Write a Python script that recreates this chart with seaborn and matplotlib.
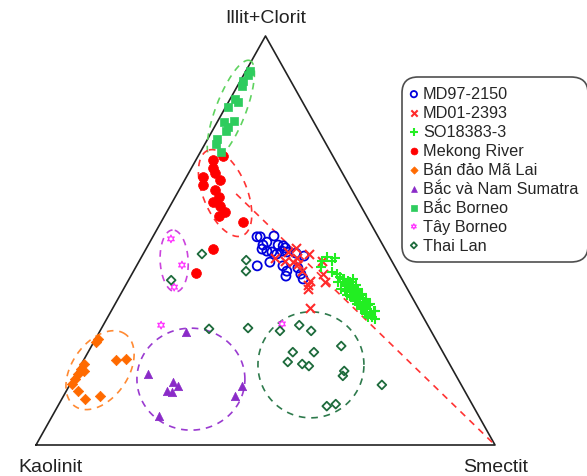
import numpy as np
import pandas as pd
import seaborn as sns
import matplotlib.pyplot as plt

# Datos ternarios (%): illit+clorit (I) y smectit (S); kaolinit = 100 - I - S
md97_I = [50.9, 50.9, 51.1, 49.6, 48.9, 47.9, 47.4, 47.2, 48.9, 48.7, 48.2, 47.4, 46.7, 47.2, 46.9, 46.2,
          44.7, 43.8, 42.5, 43.3, 41.8, 41.3, 40.6, 43.8]
md97_S = [22.7, 23.4, 26.3, 25.5, 25.0, 25.3, 26.6, 27.8, 28.3, 29.5, 30.2, 29.9, 29.1, 31.1, 33.2, 35.3,
          28.6, 31.9, 33.4, 35.4, 36.8, 33.8, 37.9, 26.3]

md01_I = [45.7, 47.2, 46.7, 45.7, 44.7, 44.3, 42.5, 40.1, 39.1, 38.1, 45.0, 41.8, 39.9, 33.5, 45.0, 48.2]
md01_S = [29.2, 31.3, 36.1, 34.0, 33.6, 34.9, 36.7, 39.7, 39.7, 40.2, 39.8, 41.6, 43.0, 42.9, 31.7, 32.5]

so_I = [45.0, 45.0, 46.0, 45.7, 43.5, 42.3, 41.8, 40.6, 40.1, 38.9, 38.1, 37.4, 36.4, 35.7, 35.0, 34.0,
        33.3, 32.0, 31.3, 36.4, 35.2, 35.7, 39.4, 38.9, 37.7, 36.7, 35.0, 34.2, 33.3, 32.8, 32.0, 41.1,
        40.6, 39.9, 39.1, 38.1, 37.7, 38.1, 36.9, 36.2, 36.7, 35.7, 34.5, 33.5, 34.5, 32.8, 31.3, 30.8,
        32.5, 37.2, 35.7, 38.6, 39.9, 40.6]
so_S = [39.8, 42.0, 40.4, 42.3, 40.3, 43.3, 44.7, 46.6, 47.9, 48.3, 49.4, 50.4, 51.7, 52.3, 53.1, 54.2,
        55.5, 56.8, 57.6, 50.2, 51.9, 53.4, 47.6, 49.4, 50.7, 52.2, 54.2, 55.2, 54.2, 57.5, 55.9, 45.7,
        48.8, 48.5, 50.2, 47.4, 48.5, 51.1, 52.6, 50.7, 49.4, 54.1, 52.7, 54.3, 55.5, 57.2, 56.7, 58.5,
        55.4, 50.7, 52.7, 48.9, 45.8, 46.8]

mekong_I = [69.7, 70.7, 67.7, 66.5, 65.5, 64.8, 63.6, 62.3, 60.6, 59.4, 58.4, 56.9, 55.9, 54.5, 47.9, 42.1]
mekong_S = [3.7, 5.4, 4.7, 5.8, 3.6, 7.7, 4.6, 7.8, 9.6, 8.9, 10.9, 12.7, 11.9, 17.8, 14.6, 13.8]

malai_I = [25.9, 25.2, 19.8, 18.6, 18.1, 17.4, 16.1, 14.9, 13.2, 11.2, 12.0, 20.8, 21.0]
malai_S = [0.5, 0.5, 0.5, 0.5, 1.5, 0.5, 0.5, 0.5, 2.5, 5.0, 8.0, 7.0, 9.1]

sumatra_I = [27.6, 17.4, 15.4, 14.4, 13.2, 13.0, 14.4, 12.0, 7.1]
sumatra_S = [18.9, 15.7, 22.2, 23.7, 21.9, 23.1, 37.7, 37.4, 23.2]

bacborneo_I = [91.4, 90.5, 89.0, 87.8, 84.6, 83.9, 82.6, 79.0, 79.2, 77.8, 76.8, 74.8, 73.6, 71.6]
bacborneo_S = [1.0, 1.0, 0.5, 1.0, 1.0, 2.0, 0.5, 1.5, 3.5, 3.0, 3.0, 2.0, 2.5, 4.5]

tayborneo_I = [50.4, 44.0, 38.6, 29.3, 29.6]
tayborneo_S = [4.2, 9.8, 10.8, 12.6, 38.8]

thailan_I = [46.7, 45.2, 42.5, 40.3, 28.4, 28.6, 27.9, 29.3, 27.9, 24.2, 22.7, 22.7, 20.3, 19.8, 19.3,
             18.1, 16.9, 14.7, 9.5, 10.0]
thailan_S = [12.8, 23.2, 24.5, 9.3, 23.5, 31.9, 39.2, 42.7, 46.0, 54.4, 44.6, 49.2, 44.7, 48.1, 49.8,
             58.1, 58.4, 68.0, 58.6, 60.3]

nhom = ["MD97-2150", "MD01-2393", "SO18383-3", "Mekong River", "Bán đảo Mã Lai",
        "Bắc và Nam Sumatra", "Bắc Borneo", "Tây Borneo", "Thai Lan"]
datos = [(md97_I, md97_S), (md01_I, md01_S), (so_I, so_S), (mekong_I, mekong_S), (malai_I, malai_S),
         (sumatra_I, sumatra_S), (bacborneo_I, bacborneo_S), (tayborneo_I, tayborneo_S),
         (thailan_I, thailan_S)]

# estilo de cada grupo: color, marcador, tamaño, hueco
estilos = {
    "MD97-2150": ("#0000dd", "o", 42, True),
    "MD01-2393": ("#ff2a2a", "x", 42, False),
    "SO18383-3": ("#22ee22", "+", 58, False),
    "Mekong River": ("#ff0000", "o", 50, False),
    "Bán đảo Mã Lai": ("#ff6a00", "D", 28, False),
    "Bắc và Nam Sumatra": ("#8a2bc8", "^", 36, False),
    "Bắc Borneo": ("#2ecc5e", "s", 36, False),
    "Tây Borneo": ("#ff33ff", (6, 1, 0), 30, True),
    "Thai Lan": ("#1e6b3c", "D", 20, True),
}

# elipses punteadas: centro (I, S), semiejes en px, angulo, color
elipses = [
    (81.9, 1.5, 53, 15, 69, "#5fd35f"),
    (61.6, 10.4, 46, 22, 112, "#ff3333"),
    (45.0, 7.6, 31, 14, 93, "#cc44dd"),
    (18.3, 4.8, 44, 28, 55, "#ff8a33"),
    (16.1, 25.7, 54, 51, 0, "#9a3ad0"),
    (19.6, 50.1, 53, 53, 0, "#2e7a4c"),
]
linea_roja = ([61.4, 0.0], [12.9, 100.0])


def a_xy(I, S):
    I = np.asarray(I) / 100.0
    S = np.asarray(S) / 100.0
    return S + 0.5 * I, I


filas = []
for nombre, (vi, vs) in zip(nhom, datos):
    x, y = a_xy(vi, vs)
    for a, b in zip(x, y):
        filas.append({"x": a, "y": b, "grupo": nombre})
df = pd.DataFrame(filas)

sns.set_theme(style="white")
plt.rcParams['font.family'] = ['Liberation Sans', 'DejaVu Sans']

fig = plt.figure(figsize=(5.87, 4.77), dpi=100)
ax = fig.add_axes([0, 0, 1, 1])
ax.set_xlim(-36 / 459, 551 / 459)
ax.set_ylim(-31 / 409, 446 / 409)
ax.axis("off")

# triangulo
ax.plot([0, 1, 0.5, 0], [0, 0, 1, 0], color="#222222", lw=1.2, zorder=1)

# linea roja punteada hacia Smectit
lx, ly = a_xy(linea_roja[0], linea_roja[1])
ax.plot(lx, ly, color="#ff3333", lw=1.2, ls=(0, (4, 3.5)), zorder=1)

# elipses
t = np.linspace(0, 2 * np.pi, 200)
for ci, cs, ra, rb, ang, col in elipses:
    cx, cy = a_xy(ci, cs)
    th = np.radians(ang)
    dx = ra * np.cos(t) * np.cos(th) - rb * np.sin(t) * np.sin(th)
    dy = ra * np.cos(t) * np.sin(th) + rb * np.sin(t) * np.cos(th)
    ax.plot(cx + dx / 459, cy + dy / 409, color=col, lw=1.2, ls=(0, (4, 3.5)), zorder=1)

for nombre in nhom:
    col, mk, tam, hueco = estilos[nombre]
    sub = df[df["grupo"] == nombre]
    kw = dict(color=col, marker=mk, s=tam, label=nombre, ax=ax, zorder=3)
    if hueco:
        kw.update(facecolor="none", edgecolor=col, linewidth=1.3 if mk != (6, 1, 0) else 0.9)
    elif mk in ("x", "+"):
        kw.update(linewidth=1.5)
    else:
        kw.update(edgecolor=col, linewidth=0.5)
    sns.scatterplot(data=sub, x="x", y="y", **kw)

# etiquetas de los vertices
ax.text(0.5, 423 / 409, "Illit+Clorit", ha="center", va="baseline", fontsize=14, color="#222222")
ax.text(14 / 459, -26 / 409, "Kaolinit", ha="center", va="baseline", fontsize=14, color="#222222")
ax.text(460 / 459, -26 / 409, "Smectit", ha="center", va="baseline", fontsize=14, color="#222222")

leg = ax.legend(loc="upper left", bbox_to_anchor=(402 / 587, 1 - 78 / 477), bbox_transform=fig.transFigure,
                fontsize=11.7, frameon=True, fancybox=True, borderaxespad=0, handletextpad=0.4,
                handlelength=0.3, labelspacing=0.24, borderpad=0.58, markerscale=0.7)
leg.get_frame().set_edgecolor("#222222")
leg.get_frame().set_linewidth(1.2)
leg.get_frame().set_boxstyle("round,pad=0,rounding_size=1.0")

plt.savefig("out.png", dpi=100)
plt.close()
